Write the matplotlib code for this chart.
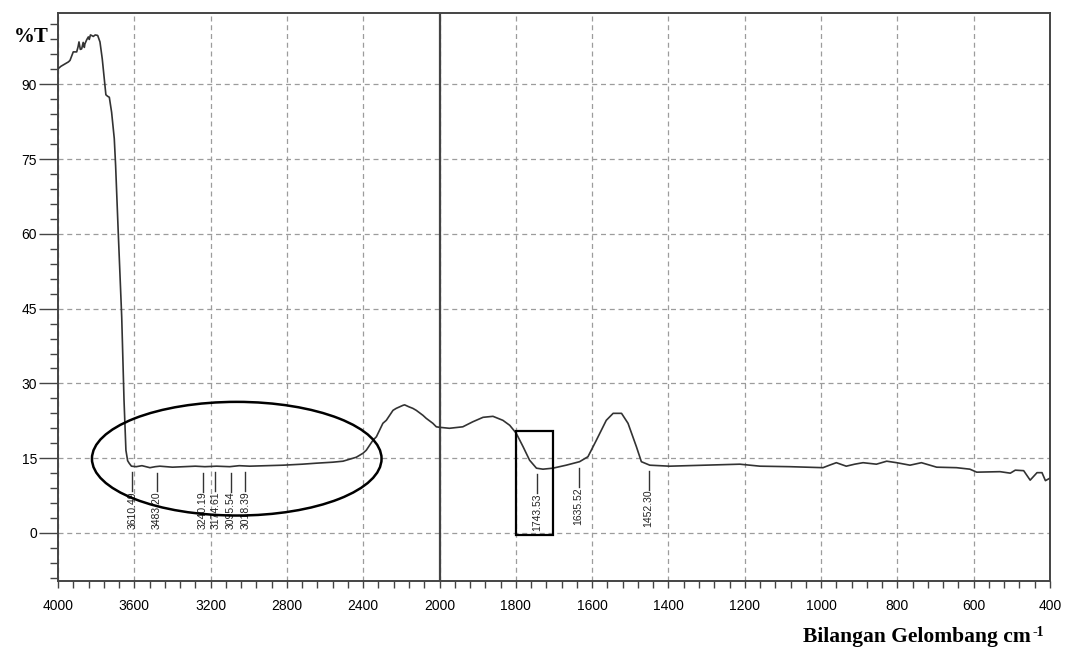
import numpy as np
import matplotlib
matplotlib.use('Agg')
import matplotlib.pyplot as plt
from matplotlib.patches import Ellipse, Rectangle

# FTIR spectrum (wavenumber cm-1, %T)
wavenumber = [4000, 3985, 3963, 3945, 3937, 3925, 3920, 3902, 3895, 3890,
              3883, 3876, 3868, 3862, 3859, 3850, 3841, 3836, 3830, 3824,
              3815, 3805, 3792, 3780, 3768, 3754, 3749, 3740, 3731, 3719,
              3705, 3698, 3684, 3666, 3654, 3644, 3635, 3627, 3615, 3590,
              3560, 3518, 3490, 3466, 3400, 3344, 3280, 3230, 3169, 3100,
              3050, 2995, 2900, 2820, 2720, 2646, 2560, 2506, 2454, 2436,
              2401, 2384, 2349, 2331, 2297, 2279, 2244, 2227, 2192, 2183,
              2160, 2140, 2122, 2087, 2070, 2035, 2017, 2000, 1974, 1939,
              1913, 1886, 1860, 1834, 1816, 1799, 1781, 1764, 1746, 1729,
              1703, 1668, 1633, 1611, 1589, 1563, 1545, 1523, 1506, 1484,
              1471, 1449, 1397, 1300, 1213, 1160, 1082, 995, 978, 960,
              934, 912, 890, 855, 828, 802, 767, 737, 697, 645,
              610, 592, 531, 504, 491, 469, 452, 434, 421, 412, 400]
transmittance = [93.1, 93.6, 94.1, 94.5, 94.8, 96.0, 96.5, 96.5, 97.5, 98.5,
                 97.0, 97.1, 98.4, 97.4, 98.1, 98.9, 99.5, 99.0, 99.9, 99.8,
                 99.6, 99.9, 99.8, 98.5, 95.1, 89.8, 87.9, 87.6, 87.4, 84.4,
                 79.1, 73.7, 60.1, 43.3, 26.7, 16.6, 14.5, 14.0, 13.4, 13.3,
                 13.5, 13.1, 13.3, 13.4, 13.2, 13.3, 13.4, 13.3, 13.4, 13.3,
                 13.5, 13.4, 13.5, 13.6, 13.8, 14.0, 14.2, 14.4, 15.0, 15.2,
                 16.0, 16.6, 18.6, 19.3, 22.0, 22.6, 24.6, 25.0, 25.6, 25.7,
                 25.3, 25.0, 24.6, 23.6, 23.0, 22.0, 21.3, 21.2, 21.0, 21.3,
                 22.3, 23.2, 23.4, 22.6, 21.6, 20.0, 17.3, 14.6, 13.0, 12.8,
                 13.0, 13.6, 14.3, 15.3, 18.6, 22.6, 24.0, 24.0, 22.0, 17.3,
                 14.3, 13.6, 13.4, 13.6, 13.8, 13.4, 13.3, 13.1, 13.6, 14.1,
                 13.4, 13.8, 14.1, 13.8, 14.4, 14.1, 13.6, 14.1, 13.2, 13.1,
                 12.8, 12.2, 12.3, 12.0, 12.6, 12.5, 10.6, 12.1, 12.1, 10.5, 11.0]

peaks = [3610.49, 3483.20, 3240.19, 3174.61, 3095.54, 3018.39,
         1743.53, 1635.52, 1452.30]

xticks_major = [4000, 3600, 3200, 2800, 2400, 2000, 1800, 1600, 1400,
                1200, 1000, 800, 600, 400]
yticks_major = [0, 15, 30, 45, 60, 75, 90]

wn = np.array(wavenumber, float)
tr = np.array(transmittance, float)


# spectrometer style axis: below 2000 cm-1 the scale is doubled
def fwd(w):
    w = np.asarray(w, float)
    return np.where(w >= 2000, w, 2 * w - 2000)


def inv(u):
    u = np.asarray(u, float)
    return np.where(u >= 2000, u, (u + 2000) / 2)


plt.rcParams['font.family'] = ['Liberation Sans', 'DejaVu Sans']

fig = plt.figure(figsize=(10.67, 6.5), dpi=100)
ax = fig.add_axes([58 / 1067, 69 / 650, 992 / 1067, 568 / 650])
ax.set_xscale('function', functions=(fwd, inv))
ax.set_xlim(4000, 400)
ax.set_ylim(-9.63, 104.3)

minor_x = list(np.arange(4000, 2000, -80)) + list(np.arange(2000, 399, -40))
ax.set_xticks(xticks_major)
ax.set_xticks(minor_x, minor=True)
ax.set_yticks(yticks_major)
ax.set_yticks(np.arange(-9, 103, 3), minor=True)

ax.grid(True, which='major', color='#9c9c9c', ls=(0, (4, 3)), lw=0.9)
ax.set_axisbelow(True)
ax.axvline(2000, color='#444444', lw=1.6, zorder=3)

for s in ax.spines.values():
    s.set_color('#444444')
    s.set_linewidth(1.4)

ax.tick_params(axis='x', which='both', direction='out', length=5, width=1,
               color='#444444', pad=8, labelsize=10)
ax.tick_params(axis='y', which='major', direction='out', length=13.5, width=1,
               color='#444444', pad=1.5, labelsize=10)
ax.tick_params(axis='y', which='minor', direction='out', length=5.8, width=1,
               color='#444444')

ax.plot(wn, tr, color='#333333', lw=1.2, zorder=4)

# peak markers
for p in peaks:
    yc = np.interp(p, wn[::-1], tr[::-1])
    ax.plot([p, p], [yc - 1.2, yc - 5.0], color='#333333', lw=1.0, zorder=4)
    ax.text(p, yc - 5.0, '{:.2f}'.format(p), rotation=90, ha='center',
            va='top', fontsize=7.5, color='#222222', zorder=4)

# highlight shapes
ax.add_patch(Ellipse((3063, 14.9), width=1518, height=22.8, fill=False,
                     edgecolor='black', lw=1.8, zorder=5))
ax.add_patch(Rectangle((1799, -0.4), -96, 20.8, fill=False,
                       edgecolor='black', lw=1.6, zorder=5))

fig.text(14 / 1067, 1 - 42 / 650, '%T', fontsize=15, fontweight='bold',
         family='Liberation Serif', ha='left', va='baseline')
xl = fig.text(803 / 1067, 1 - 642 / 650, 'Bilangan Gelombang cm',
              fontsize=15.5, fontweight='bold', family='Liberation Serif',
              ha='left', va='baseline')
ax.annotate('-1', xy=(1, 1), xycoords=xl, xytext=(1, 0.5),
            textcoords='offset points', ha='left', va='top', fontsize=10,
            fontweight='bold', family='Liberation Serif',
            annotation_clip=False)

fig.savefig('out.png', dpi=100)
